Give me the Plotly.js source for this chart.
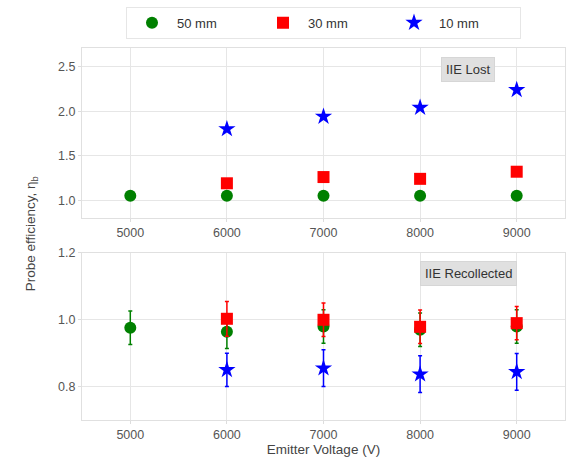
<!DOCTYPE html>
<html>
<head>
<meta charset="utf-8">
<script src="https://cdn.plot.ly/plotly-3.0.1.min.js"></script>
<style>body{margin:0;padding:0;background:#fff}#chart{width:571px;height:462px}</style>
</head>
<body>
<div id="chart"></div>
<script>
var voltages = [5000, 6000, 7000, 8000, 9000];
var voltages4 = [6000, 7000, 8000, 9000];
var seriesNames = ["50 mm", "30 mm", "10 mm"];
// Top panel: IIE Lost
var lost50 = [1.05, 1.05, 1.05, 1.05, 1.05];
var lost30 = [1.19, 1.26, 1.24, 1.32];
var lost10 = [1.80, 1.94, 2.04, 2.24];
// Bottom panel: IIE Recollected
var rec50 = [0.976, 0.964, 0.98, 0.97, 0.98];
var rec50Err = [0.05, 0.05, 0.05, 0.05, 0.05];
var rec30 = [1.003, 1.0, 0.979, 0.99];
var rec30Err = [0.052, 0.05, 0.05, 0.05];
var rec10 = [0.85, 0.855, 0.837, 0.844];
var rec10Err = [0.05, 0.055, 0.055, 0.055];
var tickVals = [5000, 6000, 7000, 8000, 9000];

var colors = ["green", "red", "blue"];
var symbols = ["circle", "square", "star"];
var sizes = [12, 12, 13];

function tr(x, y, i, ax, err, legend) {
  var t = {
    x: x, y: y, type: "scatter", mode: "markers", name: seriesNames[i],
    marker: {color: colors[i], symbol: symbols[i], size: sizes[i]},
    xaxis: ax === 1 ? "x" : "x2", yaxis: ax === 1 ? "y" : "y2",
    showlegend: legend
  };
  if (err) t.error_y = {type: "data", array: err, visible: true, color: colors[i], thickness: 1.5, width: 2};
  return t;
}

var data = [
  tr(voltages, lost50, 0, 1, null, true),
  tr(voltages4, lost30, 1, 1, null, true),
  tr(voltages4, lost10, 2, 1, null, true),
  tr(voltages, rec50, 0, 2, rec50Err, false),
  tr(voltages4, rec30, 1, 2, rec30Err, false),
  tr(voltages4, rec10, 2, 2, rec10Err, false)
];

var axisBase = {
  showgrid: true, gridcolor: "#e6e6e6", gridwidth: 1,
  showline: true, linecolor: "#e0e0e0", mirror: true, zeroline: false,
  tickfont: {family: "Liberation Sans, Arial, sans-serif", size: 12.5, color: "#555"},
  ticks: "outside", ticklen: 3, tickcolor: "#ddd"
};

var layout = {
  width: 571, height: 462,
  margin: {l: 82, r: 6, t: 48, b: 42},
  paper_bgcolor: "#fff", plot_bgcolor: "#fff",
  font: {family: "Liberation Sans, Arial, sans-serif", color: "#444"},
  showlegend: true,
  legend: {
    orientation: "h", x: 0.5, xanchor: "center", y: 1.025, yanchor: "bottom",
    bordercolor: "#e6e6e6", borderwidth: 1, font: {size: 13, color: "#333"},
    itemwidth: 40, entrywidth: 76, entrywidthmode: "pixels"
  },
  xaxis: Object.assign({}, axisBase, {range: [4500, 9500], tickvals: tickVals, anchor: "y", domain: [0, 1]}),
  yaxis: Object.assign({}, axisBase, {range: [0.8, 2.71], tickvals: [1.0, 1.5, 2.0, 2.5], tickformat: ".1f", domain: [0.543, 1], anchor: "x"}),
  xaxis2: Object.assign({}, axisBase, {range: [4500, 9500], tickvals: tickVals, anchor: "y2", domain: [0, 1],
    title: {text: "Emitter Voltage (V)", font: {size: 13.5, color: "#444"}, standoff: 2}}),
  yaxis2: Object.assign({}, axisBase, {range: [0.7, 1.2], tickvals: [0.8, 1.0, 1.2], tickformat: ".1f", domain: [0, 0.449], anchor: "x2"}),
  annotations: [
    {text: "IIE Lost", xref: "paper", yref: "paper", x: 0.80, y: 0.943, xanchor: "center", yanchor: "middle",
     showarrow: false, bgcolor: "#e0e0e0", bordercolor: "#d6d6d6", borderwidth: 1, borderpad: 4,
     font: {size: 13, color: "#333"}},
    {text: "IIE Recollected", xref: "paper", yref: "paper", x: 0.80, y: 0.395, xanchor: "center", yanchor: "middle",
     showarrow: false, bgcolor: "#e0e0e0", bordercolor: "#d6d6d6", borderwidth: 1, borderpad: 4,
     font: {size: 13, color: "#333"}},
    {text: "Probe efficiency, η<sub>b</sub>", xref: "paper", yref: "paper", x: -0.105, y: 0.5,
     xanchor: "center", yanchor: "middle", textangle: -90, showarrow: false,
     font: {size: 13.5, color: "#444"}}
  ]
};

Plotly.newPlot("chart", data, layout, {displayModeBar: false, staticPlot: true});
</script>
</body>
</html>
